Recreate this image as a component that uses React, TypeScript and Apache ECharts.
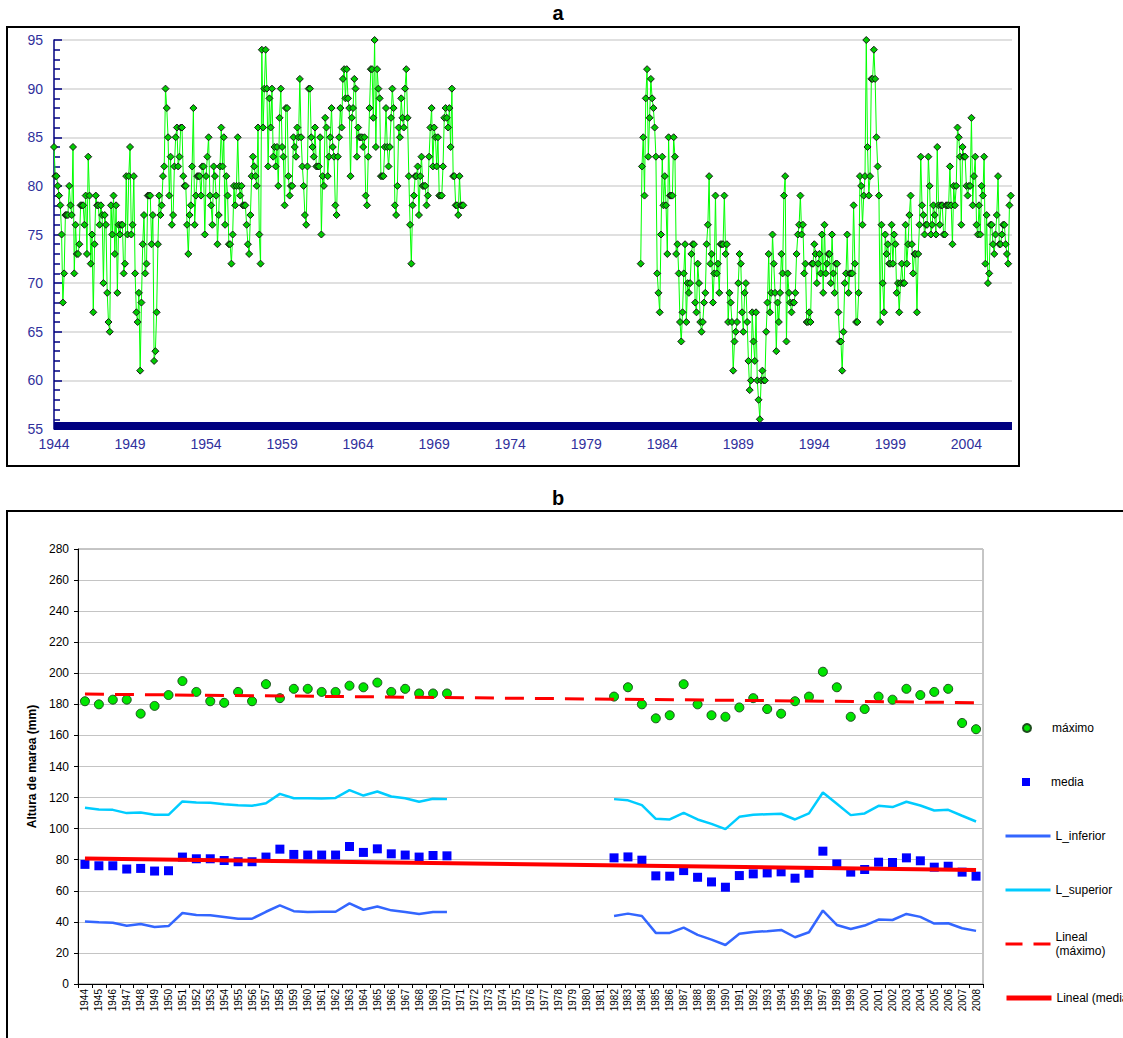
import React, { useEffect, useRef } from "react";
import * as echarts from "echarts";

// ---------- Panel a: monthly values ----------
const SEG1_START_MONTH = 0; // months counted from Jan 1944
const SEG2_START_MONTH = 463;
const AXIS_START_YEAR = 1944;
const AXIS_MAX_MONTH = 756;

const monthlySeg1 = [
  84, 81, 81, 80, 79, 78, 75, 68, 71, 77, 77, 77,
  80, 78, 77, 84, 71, 76, 73, 73, 74, 78, 78, 78,
  76, 79, 73, 83, 79, 72, 75, 67, 74, 79, 78, 78,
  76, 78, 77, 70, 77, 76, 69, 66, 65, 78, 75, 79,
  73, 78, 69, 76, 75, 76, 76, 71, 72, 81, 75, 81,
  84, 75, 76, 81, 71, 67, 66, 69, 61, 68, 74, 77,
  71, 72, 79, 79, 79, 74, 77, 62, 63, 67, 74, 79,
  77, 78, 81, 82, 90, 88, 85, 79, 83, 76, 77, 82,
  85, 86, 82, 83, 86, 86, 81, 80, 80, 76, 73, 77,
  78, 82, 88, 76, 79, 81, 81, 81, 79, 82, 82, 75,
  81, 83, 85, 79, 78, 76, 82, 81, 79, 74, 77, 82,
  86, 82, 85, 76, 81, 79, 74, 74, 72, 75, 80, 78,
  80, 85, 80, 79, 80, 78, 78, 78, 76, 74, 73, 77,
  81, 83, 82, 81, 80, 86,
  75, 72, 94, 86, 90, 94, 90, 82, 89, 86, 90, 83,
  84, 82, 84, 80, 87, 90, 84, 83, 78, 88, 88, 81,
  79, 80, 80, 85, 84, 83, 86, 85, 91, 85, 82, 80,
  77, 76, 82, 90, 90, 85, 84, 83, 86, 82, 82, 82,
  85, 75, 81, 80, 87, 86, 81, 83, 85, 88, 84, 83,
  78, 77, 83, 85, 88, 86, 91, 92, 89, 92, 89, 88,
  81, 87, 88, 91, 90, 83, 86, 85, 85, 85, 84, 85,
  79, 78, 83, 88, 92, 92, 87, 95, 84, 92, 90, 89,
  81, 81, 81, 84, 88, 84, 82, 84, 87, 90, 88, 78,
  77, 80, 86, 85, 89, 87, 86, 90, 92, 87, 81, 76,
  72, 78, 79, 81, 81, 82, 77, 81, 83, 80, 80, 80,
  78, 79, 83, 86, 88, 82, 86, 85, 82, 85, 79, 79,
  79, 82, 87, 88, 87, 86, 88, 84, 90, 81, 81, 78,
  78, 77, 81, 78, 78, 78,
];

const monthlySeg2 = [
  72, 82, 85, 79, 89, 92, 83, 87, 91, 89, 88, 86,
  83, 71, 69, 67, 75, 83, 78, 81, 78, 73, 85, 79,
  79, 79, 85, 83, 73, 74, 71, 66, 64, 67, 71, 74,
  66, 70, 69, 70, 73, 74, 74, 68, 67, 72, 70, 66,
  65, 66, 68, 69, 74, 76, 81, 72, 73, 68, 71, 79,
  71, 72, 69, 74, 74, 74, 79, 73, 74, 66, 69, 68,
  66, 61, 64, 65, 66, 70, 73, 72, 67, 65, 69, 70,
  66, 62, 59, 60, 67, 64, 62, 67, 60, 58, 56, 60,
  61, 60, 60, 65, 68, 73, 67, 69, 75, 72, 69, 63,
  68, 66, 69, 73, 71, 79, 81, 64, 71, 69, 68, 67,
  68, 68, 69, 73, 75, 76, 79, 75, 76, 71, 72, 66,
  66, 67, 66, 72, 72, 74, 73, 70, 72, 73, 71, 75,
  69, 76,
  71, 72, 73, 73, 70, 75, 71, 69, 72, 72, 67, 64,
  64, 61, 65, 70, 71, 75, 69, 71, 71, 71, 78, 72,
  66, 66, 69, 81, 80, 76, 79, 81, 95, 84, 79, 81,
  91, 91, 94, 91, 85, 82, 79, 66, 76, 70, 67, 75,
  73, 74, 72, 72, 76, 72, 75, 74, 69, 70, 67, 70,
  72, 70, 70, 76, 72, 74, 77, 79, 74, 71, 73, 73,
  67, 73, 76, 83, 78, 77, 75, 76, 76, 83, 80, 75,
  76, 78, 77, 75, 84, 78, 76, 78, 78, 75, 75, 78,
  78, 78, 82, 78, 74, 80, 78, 80, 86, 85, 83, 76,
  84, 83, 83, 80, 79, 80, 80, 87, 78, 81, 83, 76,
  75, 78, 75, 80, 79, 83, 72, 77, 70, 71, 76, 76,
  74, 73, 75, 77, 81, 74, 74, 75, 76, 76, 74, 73,
  72, 78, 79,
];

// ---------- Panel b: annual values ----------
const years = Array.from({ length: 65 }, (_, i) => String(1944 + i));
const GAP_YEARS = 11; // 1971-1981 without data

const maximoA = [182, 180, 183, 183, 174, 179, 186, 195, 188, 182, 181, 188, 182, 193, 184, 190, 190, 188, 188, 192, 191, 194, 188, 190, 187, 187, 187];
const maximoB = [185, 191, 180, 171, 173, 193, 180, 173, 172, 178, 184, 177, 174, 182, 185, 201, 191, 172, 177, 185, 183, 190, 186, 188, 190, 168, 164];

const mediaA = [77.0, 76.1, 76.1, 74.0, 74.4, 72.7, 72.9, 81.7, 80.6, 80.6, 79.5, 78.7, 78.7, 81.7, 86.8, 83.4, 83.0, 83.0, 83.0, 88.5, 84.7, 87.0, 83.8, 83.0, 81.7, 82.7, 82.5];
const mediaB = [81.2, 81.8, 79.7, 69.6, 69.4, 73.0, 68.7, 65.7, 62.3, 69.8, 70.9, 71.5, 72.2, 68.1, 71.3, 85.5, 77.3, 72.0, 73.7, 78.4, 78.2, 81.2, 79.3, 75.2, 75.8, 72.0, 69.4];

const supA = [113.4, 112.3, 112.1, 110.0, 110.4, 108.9, 108.9, 117.5, 116.8, 116.6, 115.7, 115.1, 114.7, 116.4, 122.4, 119.6, 119.6, 119.4, 119.8, 124.8, 121.3, 123.9, 120.7, 119.6, 117.3, 119.2, 119.0];
const supB = [119.0, 118.2, 115.1, 106.3, 105.9, 110.2, 105.9, 103.1, 99.7, 107.6, 108.9, 109.3, 109.6, 105.9, 109.8, 123.3, 116.0, 108.7, 109.8, 114.7, 113.9, 117.3, 114.9, 111.7, 112.1, 108.3, 104.6];

const infA = [40.3, 39.7, 39.4, 37.5, 38.6, 36.7, 37.3, 45.7, 44.4, 44.2, 43.1, 42.0, 42.0, 46.5, 50.6, 46.9, 46.3, 46.5, 46.5, 51.9, 47.8, 49.9, 47.4, 46.3, 45.0, 46.3, 46.3];
const infB = [43.8, 45.3, 43.8, 32.9, 32.9, 36.3, 31.6, 28.6, 25.1, 32.3, 33.5, 34.0, 34.8, 30.1, 33.3, 47.3, 38.0, 35.4, 37.6, 41.5, 41.2, 45.1, 43.2, 38.9, 39.1, 35.9, 34.2];

// trend line end values (first and last year)
const trendMaximo = [186.6, 181.1];
const trendMedia = [80.8, 73.3];

const FONT = '"Liberation Sans", Arial, sans-serif';
const NAVY = "#000080";
const LABEL_BLUE = "#30309c";

function joinGap(a: number[], b: number[]) {
  return [...a, ...new Array(GAP_YEARS).fill(null), ...b];
}
function trendData(ends: number[]) {
  return years.map((_, i) => (i === 0 ? ends[0] : i === years.length - 1 ? ends[1] : null));
}

function buildOption(): any {
  const seg1 = monthlySeg1.map((v, i) => [SEG1_START_MONTH + i, v]);
  const seg2 = monthlySeg2.map((v, i) => [SEG2_START_MONTH + i, v]);

  const topLine = {
    type: "line",
    xAxisIndex: 0,
    yAxisIndex: 0,
    symbol: "diamond",
    symbolSize: 7,
    showAllSymbol: true,
    silent: true,
    lineStyle: { color: "#00ff00", width: 1 },
    itemStyle: { color: "#00cc00", borderColor: "#1a1a1a", borderWidth: 1 },
    emphasis: { disabled: true },
  };

  const legendText = { fontFamily: FONT, fontSize: 12, color: "#000", lineHeight: 14 };

  const lineLegend = (name: string, top: number, lineStyle: any, extra: any = {}) => ({
    data: [name],
    orient: "horizontal",
    left: 1004,
    top,
    padding: 0,
    itemWidth: 45,
    itemHeight: 14,
    selectedMode: false,
    itemStyle: { opacity: 0 },
    lineStyle,
    textStyle: legendText,
    ...extra,
  });
  const dotLegend = (name: string, top: number) => ({
    data: [name],
    orient: "horizontal",
    left: 1022,
    top,
    padding: 0,
    itemWidth: 8,
    itemHeight: 8,
    selectedMode: false,
    textStyle: { ...legendText, padding: [0, 0, 0, 16] },
  });

  return {
    animation: false,
    backgroundColor: "#ffffff",
    textStyle: { fontFamily: FONT },
    graphic: [
      {
        type: "rect",
        z: 100,
        shape: { x: 7, y: 27, width: 1012, height: 439 },
        style: { fill: "none", stroke: "#000", lineWidth: 2 },
      },
      {
        type: "text",
        x: 558,
        y: 13,
        style: { text: "a", font: `bold 20px ${FONT}`, fill: "#000", align: "center", verticalAlign: "middle" },
      },
      {
        type: "polyline",
        z: 100,
        shape: { points: [[7, 1050], [7, 511], [1140, 511]] },
        style: { fill: "none", stroke: "#000", lineWidth: 2 },
      },
      {
        type: "text",
        x: 558,
        y: 498,
        style: { text: "b", font: `bold 20px ${FONT}`, fill: "#000", align: "center", verticalAlign: "middle" },
      },
    ],
    legend: [
      dotLegend("máximo", 721),
      dotLegend("media", 775),
      lineLegend("L_inferior", 829, { color: "#3366ff", width: 3 }),
      lineLegend("L_superior", 883, { color: "#00ccff", width: 3 }),
      lineLegend(
        "Lineal (máximo)",
        923,
        { color: "#ff0000", width: 3, type: [17, 11] },
        {
          formatter: () => "Lineal\n(máximo)",
          textStyle: { ...legendText, padding: [14, 0, 0, 0] },
        }
      ),
      lineLegend("Lineal (media)", 991, { color: "#ff0000", width: 5 }),
    ],
    grid: [
      { left: 54, right: 111, top: 40, bottom: 609, outerBoundsMode: "none" },
      {
        left: 78,
        right: 140,
        top: 549,
        bottom: 54,
        show: true,
        borderColor: "#8c8c8c",
        borderWidth: 1,
        outerBoundsMode: "none",
      },
    ],
    xAxis: [
      {
        gridIndex: 0,
        type: "value",
        min: 0,
        max: AXIS_MAX_MONTH,
        interval: 60,
        offset: -3,
        axisLine: { show: true, onZero: false, lineStyle: { color: NAVY, width: 8, cap: "butt" } },
        axisTick: { show: false },
        splitLine: { show: false },
        axisLabel: {
          color: LABEL_BLUE,
          fontSize: 14,
          fontFamily: FONT,
          margin: 11,
          showMaxLabel: false,
          formatter: (v: number) => (v % 60 === 0 ? String(AXIS_START_YEAR + v / 12) : ""),
        },
      },
      {
        gridIndex: 1,
        type: "category",
        data: years,
        boundaryGap: true,
        axisLine: { show: true, lineStyle: { color: "#000", width: 1 } },
        axisTick: { show: true, length: 4, lineStyle: { color: "#000" } },
        axisLabel: { rotate: 90, interval: 0, fontSize: 10, fontFamily: FONT, color: "#000", margin: 5 },
        splitLine: { show: false },
      },
    ],
    yAxis: [
      {
        gridIndex: 0,
        type: "value",
        min: 55,
        max: 95,
        interval: 5,
        axisLine: { show: true, onZero: false, lineStyle: { color: NAVY, width: 1.5 } },
        axisTick: { show: true, inside: true, length: 8, lineStyle: { color: NAVY, width: 1.5 } },
        minorTick: { show: true, splitNumber: 5, length: 6, lineStyle: { color: NAVY, width: 1.5 } },
        axisLabel: { color: LABEL_BLUE, fontSize: 14, fontFamily: FONT, margin: 11 },
        splitLine: { show: true, lineStyle: { color: "#d6d6d6", width: 1.5 } },
      },
      {
        gridIndex: 1,
        type: "value",
        min: 0,
        max: 280,
        interval: 20,
        name: "Altura de marea (mm)",
        nameLocation: "middle",
        nameGap: 38,
        nameTextStyle: { fontFamily: FONT, fontSize: 12, fontWeight: "bold", color: "#000" },
        axisLine: { show: true, onZero: false, lineStyle: { color: "#000", width: 1 } },
        axisTick: { show: true, length: 4, lineStyle: { color: "#000" } },
        axisLabel: { fontSize: 12, fontFamily: FONT, color: "#000", margin: 9 },
        splitLine: { show: true, lineStyle: { color: "#c4c4c4", width: 1 } },
      },
    ],
    series: [
      { ...topLine, name: "a1", data: seg1 },
      { ...topLine, name: "a2", data: seg2 },
      {
        name: "máximo",
        type: "scatter",
        xAxisIndex: 1,
        yAxisIndex: 1,
        symbol: "circle",
        symbolSize: 9,
        data: joinGap(maximoA, maximoB),
        itemStyle: { color: "#00e600", borderColor: "#1d4d1d", borderWidth: 1, opacity: 1 },
        emphasis: { disabled: true },
        z: 3,
      },
      {
        name: "media",
        type: "scatter",
        xAxisIndex: 1,
        yAxisIndex: 1,
        symbol: "rect",
        symbolSize: 9,
        data: joinGap(mediaA, mediaB),
        itemStyle: { color: "#0000ff", opacity: 1 },
        emphasis: { disabled: true },
        z: 3,
      },
      {
        name: "L_inferior",
        type: "line",
        xAxisIndex: 1,
        yAxisIndex: 1,
        symbol: "none",
        connectNulls: false,
        data: joinGap(infA, infB),
        lineStyle: { color: "#3366ff", width: 2.5 },
        itemStyle: { color: "#3366ff" },
        emphasis: { disabled: true },
        z: 2,
      },
      {
        name: "L_superior",
        type: "line",
        xAxisIndex: 1,
        yAxisIndex: 1,
        symbol: "none",
        connectNulls: false,
        data: joinGap(supA, supB),
        lineStyle: { color: "#00ccff", width: 2.5 },
        itemStyle: { color: "#00ccff" },
        emphasis: { disabled: true },
        z: 2,
      },
      {
        name: "Lineal (máximo)",
        type: "line",
        xAxisIndex: 1,
        yAxisIndex: 1,
        symbol: "none",
        connectNulls: true,
        data: trendData(trendMaximo),
        lineStyle: { color: "#ff0000", width: 3, type: [19, 11] },
        itemStyle: { color: "#ff0000" },
        emphasis: { disabled: true },
        z: 4,
      },
      {
        name: "Lineal (media)",
        type: "line",
        xAxisIndex: 1,
        yAxisIndex: 1,
        symbol: "none",
        connectNulls: true,
        data: trendData(trendMedia),
        lineStyle: { color: "#ff0000", width: 4 },
        itemStyle: { color: "#ff0000" },
        emphasis: { disabled: true },
        z: 4,
      },
    ],
  };
}

export default function App() {
  const ref = useRef<HTMLDivElement>(null);
  useEffect(() => {
    if (!ref.current) return;
    const chart = echarts.init(ref.current, null, { renderer: "svg" });
    chart.setOption(buildOption());
    return () => chart.dispose();
  }, []);
  return (
    <div
      ref={ref}
      style={{ position: "absolute", left: 0, top: 0, width: 1123, height: 1038, background: "#fff" }}
    />
  );
}
